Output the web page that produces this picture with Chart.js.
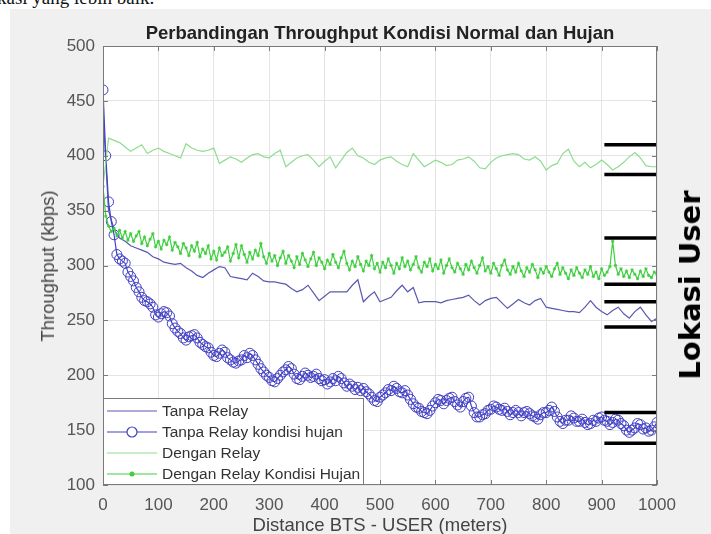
<!DOCTYPE html>
<html>
<head>
<meta charset="utf-8">
<script src="https://cdn.jsdelivr.net/npm/chart.js@4.4.1/dist/chart.umd.min.js"></script>
<style>
  body { margin:0; width:711px; height:534px; overflow:hidden; background:#fff; position:relative; font-family:'Liberation Sans', Arial, sans-serif; }
  .caption { position:absolute; left:-3px; top:-13px; font-family:'Liberation Serif', serif; font-size:19px; color:#111; white-space:nowrap; }
  .figure { position:absolute; left:10px; top:9px; right:0; bottom:0; background:#f0f0f0; }
  #chart { position:absolute; left:0; top:0; }
  .title { position:absolute; left:103px; width:554px; top:22px; text-align:center; font-weight:bold; font-size:18.5px; color:#222; white-space:nowrap; }
  .ylabel { position:absolute; left:48px; top:266px; transform:translate(-50%,-50%) rotate(-90deg); font-size:18.5px; color:#444; white-space:nowrap; }
  .xlabel { position:absolute; left:380px; top:514px; transform:translateX(-50%); font-size:18.5px; color:#444; white-space:nowrap; }
  .lokasi { position:absolute; left:690px; top:285px; transform:translate(-50%,-50%) rotate(-90deg); font-family:'DejaVu Sans', sans-serif; font-weight:bold; font-size:29px; color:#000; white-space:nowrap; }
</style>
</head>
<body>
<div class="caption">kasi yang lebih baik.</div>
<div class="figure"></div>
<canvas id="chart" width="711" height="534"></canvas>
<div class="title">Perbandingan Throughput Kondisi Normal dan Hujan</div>
<div class="ylabel">Throughput (kbps)</div>
<div class="xlabel">Distance BTS - USER (meters)</div>
<div class="lokasi">Lokasi User</div>

<script>
// ── Data ───────────────────────────────────────────────────────
// distance grid: the two clear-weather runs are sampled every 10 m,
// the two rainy runs every 5 m
const distance10 = Array.from({ length: 101 }, (_, i) => i * 10);
const distance5  = Array.from({ length: 201 }, (_, i) => i * 5);

const tanpaRelay = [
  440, 350, 333, 325, 322, 318, 316, 314, 312, 308,
  306, 303, 302, 301, 302, 298, 295, 291, 289, 293,
  296, 299, 298, 290, 289, 288, 287, 293, 290, 286,
  285, 285, 284, 283, 279, 276, 278, 282, 275, 268,
  272, 276, 276, 276, 276, 282, 287, 267, 272, 276,
  267, 269, 271, 277, 282, 276, 280, 266, 267, 267,
  267, 266, 268, 269, 270, 271, 273, 268, 264, 268,
  270, 271, 266, 261, 265, 269, 266, 264, 268, 270,
  262, 261, 260, 259, 258, 258, 257, 262, 268, 262,
  258, 255, 259, 262, 256, 252, 258, 262, 255, 249,
  252
];

const tanpaRelayHujan = [
  460, 400, 358, 340, 328, 310, 306, 304, 302, 294,
  290, 286, 280, 276, 271, 268, 267, 265, 262, 255,
  253, 256, 258, 257, 254, 247, 243, 240, 238, 234,
  232, 235, 236, 237, 234, 230, 228, 226, 225, 221,
  218, 217, 220, 223, 221, 216, 214, 212, 211, 213,
  214, 218, 216, 220, 218, 214, 210, 206, 203, 200,
  198, 195, 194, 197, 200, 203, 205, 208, 206, 201,
  197, 196, 199, 202, 200, 198, 199, 201, 197, 195,
  196, 192, 194, 197, 195, 199, 197, 193, 190, 192,
  190, 187, 189, 186, 188, 185, 183, 180, 177, 176,
  180, 182, 184, 187, 186, 190, 188, 185, 184, 186,
  182, 178, 174, 171, 170, 167, 166, 165, 168, 172,
  175, 178, 177, 174, 177, 179, 180, 176, 173, 171,
  176, 179, 180, 172, 166, 162, 162, 164, 165, 168,
  169, 172, 171, 169, 168, 170, 167, 164, 166, 168,
  166, 163, 166, 167, 165, 163, 162, 160, 164, 166,
  166, 168, 171, 167, 162, 158, 156, 159, 159, 163,
  161, 158, 158, 160, 157, 155, 156, 159, 158, 161,
  162, 159, 158, 155, 157, 160, 159, 156, 154, 150,
  148, 150, 152, 156, 155, 151, 152, 149, 150, 153,
  157
];

const denganRelay = [
  372, 416, 414, 412, 408, 404, 407, 410, 402, 405,
  407, 404, 402, 400, 398, 411, 407, 405, 404, 405,
  407, 393, 396, 399, 397, 394, 398, 401, 402, 399,
  398, 402, 405, 390, 394, 398, 400, 401, 396, 390,
  395, 399, 389, 396, 403, 407, 400, 398, 394, 392,
  396, 398, 399, 395, 392, 390, 402, 396, 390, 393,
  396, 394, 391, 392, 396, 397, 399, 395, 389, 388,
  394, 398, 400, 401, 402, 401, 397, 396, 399, 395,
  387, 391, 393, 402, 406, 395, 390, 394, 389, 392,
  396, 392, 387, 390, 394, 399, 403, 398, 391, 390,
  390
];

const denganRelayHujan = [
  372, 345, 336, 331, 334, 327, 332, 325, 331, 323,
  329, 322, 327, 331, 320, 326, 318, 324, 329, 317,
  322, 315, 323, 319, 326, 314, 321, 317, 311, 320,
  316, 309, 318, 313, 321, 308, 315, 311, 318, 306,
  313, 305, 316, 309, 312, 317, 304, 311, 319, 307,
  318, 310, 303, 312, 306, 314, 309, 320, 308, 302,
  311, 304, 309, 300, 307, 313, 302, 309, 304, 298,
  308, 301, 311, 305, 299, 306, 312, 300, 307, 303,
  297, 305, 301, 310, 303, 298, 307, 313, 302, 296,
  304, 299, 308, 301, 295, 304, 300, 309, 297, 302,
  294, 303, 298, 306, 300, 293, 302, 297, 307, 299,
  304, 296, 301, 308, 298, 294, 303, 299, 306, 295,
  301, 297, 305, 293, 300, 306, 298, 294, 302, 297,
  292, 301, 296, 304, 298, 293, 300, 307, 295, 299,
  293, 302, 297, 291, 300, 305, 296, 292, 299, 294,
  302, 295, 290, 298, 294, 301, 296, 289, 297, 293,
  299, 294, 290, 297, 302, 292, 298, 293, 288, 296,
  291, 298, 293, 289, 296, 292, 299, 290, 294, 288,
  297, 291, 294, 299, 322, 300, 292, 297, 290, 295,
  289, 296, 292, 288, 295, 290, 297, 291, 289, 294,
  292
];

// "Lokasi User" markers: horizontal bars over the last stretch
const lokasiLevels = [410, 383, 325, 283, 267, 244, 166, 138];
const lokasiFrom = 905;
const lokasiTo   = 1000;

const xTicks = [0, 100, 200, 300, 400, 500, 600, 700, 800, 900, 1000];
const yTicks = [100, 150, 200, 250, 300, 350, 400, 450, 500];

const legendLabels = [
  'Tanpa Relay',
  'Tanpa Relay kondisi hujan',
  'Dengan Relay',
  'Dengan Relay Kondisi Hujan',
];

(() => {
  const AXIS = '#7a7a7a';
  const FONT = "'Liberation Sans', Arial, sans-serif";

  const pts = (xs, ys) => xs.map((x, i) => ({ x, y: ys[i] }));
  const lokasiPts = lokasiLevels.flatMap(y => [
    { x: lokasiFrom, y }, { x: lokasiTo, y }, { x: lokasiTo, y: null },
  ]);

  const series = [
    { color: '#5a58b0', width: 1.2, marker: null },
    { color: '#4240c4', width: 1.2, marker: 'circle' },
    { color: '#8edc8e', width: 1.2, marker: null },
    { color: '#3fcf3f', width: 1.2, marker: 'star' },
  ];

  // ── Plot background, box, inner ticks, legend ─────────────────
  const framePlugin = {
    id: 'frame',
    beforeDraw(chart) {
      const { ctx, chartArea: a } = chart;
      ctx.save();
      ctx.fillStyle = '#fff';
      ctx.fillRect(a.left, a.top, a.right - a.left, a.bottom - a.top);
      ctx.restore();
    },
    afterDraw(chart) {
      const { ctx, chartArea: a, scales } = chart;
      ctx.save();
      ctx.strokeStyle = AXIS;
      ctx.lineWidth = 1;
      ctx.strokeRect(a.left + 0.5, a.top + 0.5, a.right - a.left - 1, a.bottom - a.top - 1);

      ctx.beginPath();
      xTicks.forEach(v => {
        const x = Math.round(scales.x.getPixelForValue(v)) + 0.5;
        ctx.moveTo(x, a.bottom); ctx.lineTo(x, a.bottom - 5);
        ctx.moveTo(x, a.top);    ctx.lineTo(x, a.top + 5);
      });
      yTicks.forEach(v => {
        const y = Math.round(scales.y.getPixelForValue(v)) + 0.5;
        ctx.moveTo(a.left, y);  ctx.lineTo(a.left + 5, y);
        ctx.moveTo(a.right, y); ctx.lineTo(a.right - 5, y);
      });
      ctx.stroke();

      // legend box, lower left inside the axes
      const bw = 261, bh = 87;
      const bx = a.left, by = a.bottom - bh;
      ctx.fillStyle = '#fff';
      ctx.fillRect(bx, by, bw, bh);
      ctx.strokeRect(bx + 0.5, by + 0.5, bw - 1, bh - 1);

      ctx.font = `15.5px ${FONT}`;
      ctx.textBaseline = 'middle';
      legendLabels.forEach((label, i) => {
        const s = series[i];
        const y = by + 13 + i * 21;
        ctx.strokeStyle = s.color;
        ctx.lineWidth = s.width;
        ctx.beginPath();
        ctx.moveTo(bx + 4, y); ctx.lineTo(bx + 54, y);
        ctx.stroke();
        if (s.marker === 'circle') {
          ctx.beginPath();
          ctx.arc(bx + 29, y, 5, 0, Math.PI * 2);
          ctx.fillStyle = '#fff';
          ctx.fill();
          ctx.stroke();
        } else if (s.marker === 'star') {
          ctx.fillStyle = s.color;
          ctx.beginPath();
          ctx.arc(bx + 29, y, 2.5, 0, Math.PI * 2);
          ctx.fill();
        }
        ctx.fillStyle = '#333';
        ctx.fillText(label, bx + 59, y + 1);
      });
      ctx.restore();
    },
  };

  const line = (data, s, extra = {}) => ({
    data,
    borderColor: s.color,
    borderWidth: s.width,
    pointRadius: 0,
    tension: 0,
    ...extra,
  });

  new Chart(document.getElementById('chart'), {
    type: 'line',
    data: {
      datasets: [
        line(lokasiPts, { color: '#000', width: 3.5 }, { spanGaps: false }),
        line(pts(distance5, denganRelayHujan), series[3], {
          pointRadius: 1.6, pointStyle: 'star', pointBorderColor: series[3].color, pointBorderWidth: 1,
        }),
        line(pts(distance10, denganRelay), series[2]),
        line(pts(distance5, tanpaRelayHujan), series[1], {
          pointRadius: 5, pointStyle: 'circle', pointBackgroundColor: 'rgba(0,0,0,0)',
          pointBorderColor: series[1].color, pointBorderWidth: 1,
        }),
        line(pts(distance10, tanpaRelay), series[0]),
      ],
    },
    options: {
      responsive: false,
      animation: false,
      events: [],
      layout: { padding: { left: 0, top: 46, right: 54, bottom: 0 } },
      plugins: { legend: { display: false }, title: { display: false }, tooltip: { enabled: false } },
      scales: {
        x: {
          type: 'linear',
          min: 0, max: 1000,
          afterFit: s => { s.height = 49; },
          afterBuildTicks: s => { s.ticks = xTicks.map(value => ({ value })); },
          grid: { color: '#e4e4e4', drawTicks: false },
          border: { display: false },
          ticks: { color: '#555', padding: 10, font: { family: FONT, size: 17 }, callback: v => String(v) },
        },
        y: {
          type: 'linear',
          min: 100, max: 500,
          afterFit: s => { s.width = 103; },
          afterBuildTicks: s => { s.ticks = yTicks.map(value => ({ value })); },
          grid: { color: '#e4e4e4', drawTicks: false },
          border: { display: false },
          ticks: { color: '#555', padding: 8, font: { family: FONT, size: 17 }, callback: v => String(v) },
        },
      },
    },
    plugins: [framePlugin],
  });
})();
</script>
</body>
</html>
